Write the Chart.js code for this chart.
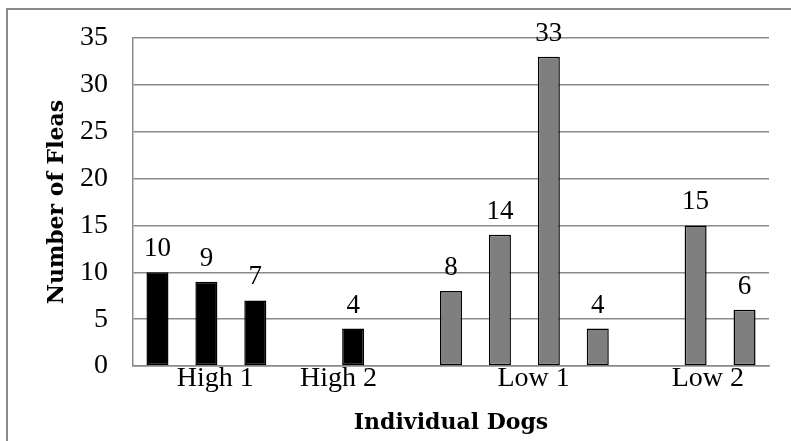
<!DOCTYPE html>
<html>
<head>
<meta charset="utf-8">
<script src="https://cdn.jsdelivr.net/npm/chart.js@4/dist/chart.umd.min.js"></script>
<style>
  html, body { margin: 0; padding: 0; background: #ffffff; }
  canvas { display: block; }
</style>
</head>
<body>
<canvas id="fleas" width="791" height="441"></canvas>
<script>
// Flea counts per individual dog, one slot per dog along the x axis
const highFleas = [10, 9, 7, null, 4, null];      // dogs in the high groups
const lowFleas  = [8, 14, 33, 4, null, 15, 6];     // dogs in the low groups
const groupLabels = ['High 1', 'High 2', 'Low 1', 'Low 2'];
const groupLabelAt = [1.18, 3.7, 7.69, 11.25];     // x value under which each group name sits
const yTicks = [0, 5, 10, 15, 20, 25, 30, 35];

const dogCount = highFleas.length + lowFleas.length;
const GRID = '#8a8a8a';
const SERIF = '"Liberation Serif", "DejaVu Serif", serif';
const SERIF_BOLD = '"DejaVu Serif", "Liberation Serif", serif';

// Frame around the whole chart
const framePlugin = {
  id: 'frame',
  beforeDraw(chart) {
    const ctx = chart.ctx;
    ctx.save();
    ctx.strokeStyle = GRID;
    ctx.lineWidth = 2;
    ctx.strokeRect(7, 9, 900, 600);
    ctx.restore();
  }
};

// Value printed above every bar
const valueLabels = {
  id: 'valueLabels',
  afterDatasetsDraw(chart) {
    const ctx = chart.ctx;
    ctx.save();
    ctx.font = '27px ' + SERIF;
    ctx.fillStyle = '#000';
    ctx.textAlign = 'center';
    ctx.textBaseline = 'alphabetic';
    chart.data.datasets.forEach((ds, di) => {
      const meta = chart.getDatasetMeta(di);
      meta.data.forEach((bar, i) => {
        const v = ds.data[i].y;
        if (v === null || v === undefined) return;
        ctx.fillText(String(v), bar.x, bar.y - 16);
      });
    });
    ctx.restore();
  }
};

new Chart(document.getElementById('fleas'), {
  type: 'bar',
  data: {
    datasets: [
      {
        label: 'High',
        data: highFleas.map((v, i) => ({ x: i, y: v })),
        backgroundColor: '#000000',
        borderColor: '#000000',
        borderWidth: 1.5,
        borderSkipped: false
      },
      {
        label: 'Low',
        data: lowFleas.map((v, i) => ({ x: i + highFleas.length, y: v })),
        backgroundColor: '#7f7f7f',
        borderColor: '#000000',
        borderWidth: 1.5,
        borderSkipped: false
      }
    ]
  },
  options: {
    responsive: false,
    animation: false,
    devicePixelRatio: 1,
    layout: { padding: { left: 0, right: 22, top: 38, bottom: 0 } },
    datasets: { bar: { grouped: false, categoryPercentage: 1, barPercentage: 0.45 } },
    plugins: {
      legend: { display: false },
      tooltip: { enabled: false }
    },
    scales: {
      x: {
        type: 'linear',
        min: -0.5,
        max: dogCount - 0.5,
        offset: false,
        afterBuildTicks(scale) {
          scale.ticks = groupLabelAt.map(v => ({ value: v }));
        },
        afterFit(scale) { scale.height = 75; },
        grid: { display: false, drawTicks: false },
        border: { display: true, color: GRID, width: 1.5 },
        ticks: {
          autoSkip: false,
          maxRotation: 0,
          padding: -4,
          color: '#000',
          font: { family: SERIF, size: 28 },
          callback: (v, i) => groupLabels[i]
        },
        title: {
          display: true,
          text: 'Individual Dogs',
          color: '#000',
          font: { family: SERIF_BOLD, size: 22, weight: 'bold' },
          padding: { top: 0, bottom: 5 }
        }
      },
      y: {
        min: 0,
        max: 35,
        afterBuildTicks(scale) {
          scale.ticks = yTicks.map(v => ({ value: v }));
        },
        afterFit(scale) {
          scale.width = 133;
          scale.paddingTop = 0;
          scale.paddingBottom = 0;
        },
        grid: { color: GRID, lineWidth: 1.5, drawTicks: false },
        border: { display: true, color: GRID, width: 1.5 },
        ticks: {
          padding: 25,
          color: '#000',
          font: { family: SERIF, size: 28 }
        },
        title: {
          display: true,
          text: 'Number of Fleas',
          color: '#000',
          font: { family: SERIF_BOLD, size: 22, weight: 'bold' },
          padding: { top: 44, bottom: 0 }
        }
      }
    }
  },
  plugins: [framePlugin, valueLabels]
});
</script>
</body>
</html>
